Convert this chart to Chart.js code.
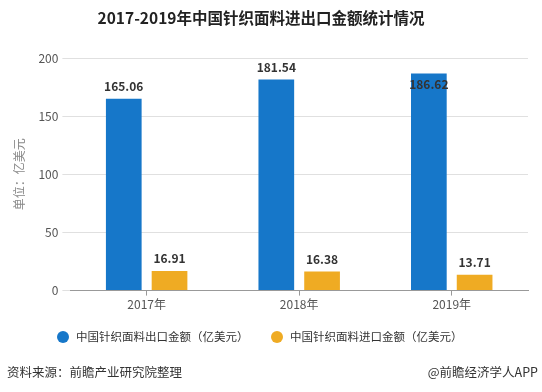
<!DOCTYPE html>
<html>
<head>
<meta charset="utf-8">
<script src="https://cdn.jsdelivr.net/npm/chart.js@4/dist/chart.umd.min.js"></script>
<style>
html,body{margin:0;padding:0;background:#fff;}
#wrap{width:542px;height:392px;position:relative;}
</style>
</head>
<body>
<div id="wrap"><canvas id="c" width="542" height="392"></canvas></div>
<script>
const categories = ['2017年', '2018年', '2019年'];
const exportValues = [165.06, 181.54, 186.62];
const importValues = [16.91, 16.38, 13.71];
const seriesNames = ['中国针织面料出口金额（亿美元）', '中国针织面料进口金额（亿美元）'];
const seriesColors = ['#1677c9', '#efab23'];
const yTicks = [0, 50, 100, 150, 200];
const titleText = '2017-2019年中国针织面料进出口金额统计情况';
const yTitle = '单位：亿美元';
const sourceText = '资料来源：前瞻产业研究院整理';
const brandText = '@前瞻经济学人APP';

const FONT = '"Microsoft YaHei","Noto Sans CJK SC","Noto Sans",sans-serif';

const labelPlugin = {
  id: 'valLabels',
  afterDatasetsDraw(chart) {
    const ctx = chart.ctx;
    const top = chart.chartArea.top;
    ctx.save();
    ctx.font = 'bold 12px ' + FONT;
    ctx.fillStyle = '#333';
    ctx.textAlign = 'center';
    chart.data.datasets.forEach((ds, di) => {
      const meta = chart.getDatasetMeta(di);
      meta.data.forEach((bar, i) => {
        let y = bar.y - 6;
        if (y - 12 < top) {
          ctx.textBaseline = 'top';
          y = bar.y + 5;
        } else {
          ctx.textBaseline = 'bottom';
        }
        ctx.fillText(ds.data[i].toFixed(2), bar.x, y);
      });
    });
    ctx.restore();
  }
};

const decorPlugin = {
  id: 'decor',
  afterDraw(chart) {
    const ctx = chart.ctx;
    ctx.save();
    // title
    ctx.font = 'bold 15.5px ' + FONT;
    ctx.fillStyle = '#222';
    ctx.textAlign = 'center';
    ctx.textBaseline = 'middle';
    ctx.fillText(titleText, 261, 18);
    // legend
    ctx.font = '11.5px ' + FONT;
    ctx.textAlign = 'left';
    const legendX = [63, 277];
    seriesNames.forEach((name, i) => {
      ctx.fillStyle = seriesColors[i];
      ctx.beginPath();
      ctx.arc(legendX[i], 337, 6, 0, Math.PI * 2);
      ctx.fill();
      ctx.fillStyle = '#333';
      ctx.fillText(name, legendX[i] + 13, 337);
    });
    // footer
    ctx.font = '12.5px ' + FONT;
    ctx.fillStyle = '#333';
    ctx.fillText(sourceText, 7, 372);
    ctx.textAlign = 'right';
    ctx.fillText(brandText, 538, 372);
    ctx.restore();
  }
};

new Chart(document.getElementById('c'), {
  type: 'bar',
  data: {
    labels: categories,
    datasets: [
      { label: seriesNames[0], data: exportValues, backgroundColor: seriesColors[0],
        categoryPercentage: 0.6, barPercentage: 0.78 },
      { label: seriesNames[1], data: importValues, backgroundColor: seriesColors[1],
        categoryPercentage: 0.6, barPercentage: 0.78 }
    ]
  },
  options: {
    responsive: false,
    animation: false,
    devicePixelRatio: 1,
    layout: { padding: { left: 8, right: 14, top: 58, bottom: 78 } },
    plugins: {
      title: { display: false },
      legend: { display: false },
      tooltip: { enabled: false }
    },
    scales: {
      x: {
        grid: { drawOnChartArea: false, drawTicks: true, tickLength: 5, offset: false, color: '#999' },
        border: { display: true, color: '#999' },
        ticks: { color: '#555', font: { family: FONT, size: 12 }, padding: 2 }
      },
      y: {
        min: 0, max: 200,
        afterBuildTicks(axis) { axis.ticks = yTicks.map(v => ({ value: v })); },
        grid: { color: '#e0e0e0', drawTicks: true, tickLength: 8 },
        border: { display: false },
        ticks: { color: '#555', font: { family: FONT, size: 12 }, padding: 4 },
        title: { display: true, text: yTitle, color: '#888', font: { family: FONT, size: 12 }, padding: { bottom: 8 } }
      }
    }
  },
  plugins: [labelPlugin, decorPlugin]
});
</script>
</body>
</html>
